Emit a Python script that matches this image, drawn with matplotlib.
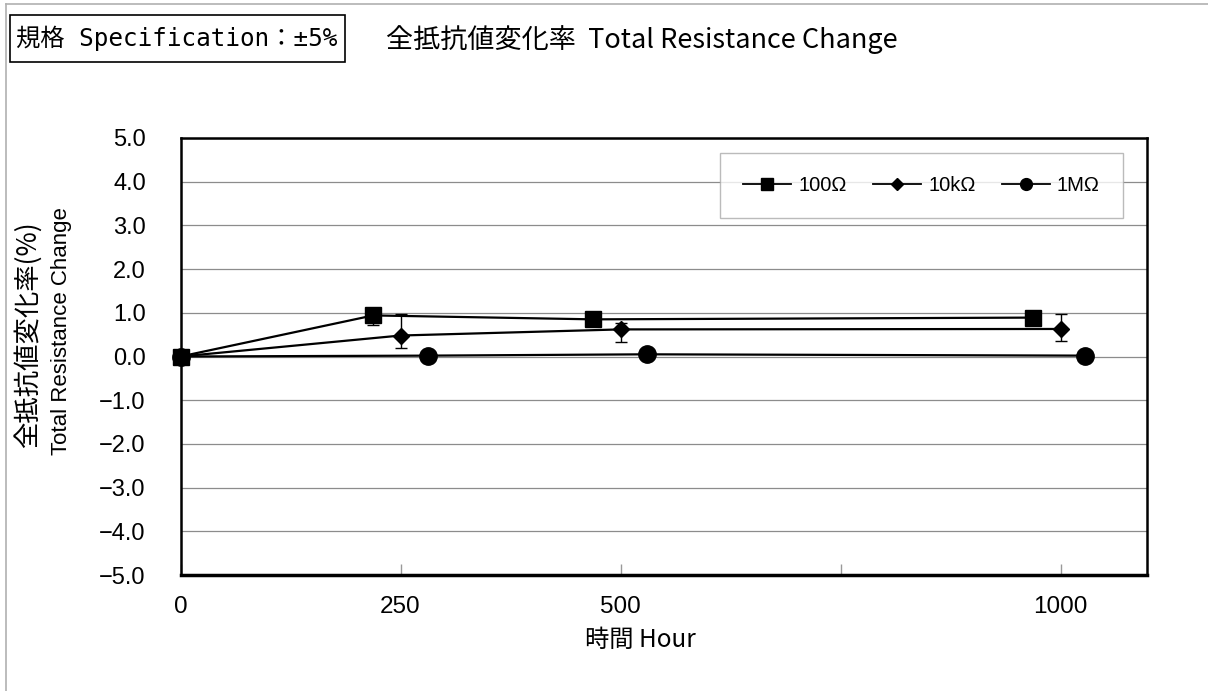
import matplotlib
matplotlib.use("Agg")
import matplotlib.pyplot as plt
from matplotlib.lines import Line2D
from matplotlib.patches import Rectangle

plt.rcParams['font.family'] = ['Liberation Sans', 'Noto Sans CJK JP', 'DejaVu Sans']

# ---- data ----
series_names = ['100Ω', '10kΩ', '1MΩ']
hours_100 = [0, 219, 469, 969]
chg_100 = [0.0, 0.94, 0.85, 0.89]
err_100_lo = [0.0, 0.22, 0.0, 0.0]
err_100_hi = [0.0, 0.0, 0.0, 0.0]

hours_10k = [0, 250, 500, 1000]
chg_10k = [0.0, 0.48, 0.62, 0.63]
err_10k_lo = [0.0, 0.28, 0.28, 0.28]
err_10k_hi = [0.0, 0.49, 0.15, 0.35]

hours_1M = [0, 281, 530, 1028]
chg_1M = [0.0, 0.02, 0.05, 0.02]

x_ticks = [0, 250, 500, 750, 1000]
x_tick_labels = ['0', '250', '500', '', '1000']
y_ticks = [-5, -4, -3, -2, -1, 0, 1, 2, 3, 4, 5]

W, H = 1208, 691
fig = plt.figure(figsize=(W / 100, H / 100), dpi=100)
ax = fig.add_axes([180.5 / W, 1 - 575 / H, (1147 - 180.5) / W, (575 - 138) / H])

cjk = ['Noto Sans CJK JP', 'DejaVu Sans']
mono = ['DejaVu Sans Mono', 'Noto Sans CJK JP']

ax.errorbar(hours_1M, chg_1M, color='black', lw=1.6, marker='o', ms=12.5,
            clip_on=False, zorder=3)
ax.errorbar(hours_10k, chg_10k, yerr=[err_10k_lo, err_10k_hi], color='black', lw=1.6,
            marker='D', ms=8.5, elinewidth=1.0, capsize=4, capthick=1.0,
            clip_on=False, zorder=4)
ax.errorbar(hours_100, chg_100, yerr=[err_100_lo, err_100_hi], color='black', lw=1.6,
            marker='s', ms=12, elinewidth=1.0, capsize=4, capthick=1.0,
            clip_on=False, zorder=5)

ax.set_xlim(0, 1098)
ax.set_ylim(-5, 5)
ax.set_yticks(y_ticks)
ax.set_yticklabels([f'{v:.1f}'.replace('-', '−') for v in y_ticks])
ax.set_xticks(x_ticks)
ax.set_xticklabels(x_tick_labels, fontsize=17.5)
ax.tick_params(axis='y', length=0, pad=25, labelsize=17)
ax.tick_params(axis='x', direction='in', length=8, color='#999999', width=1, pad=15)
ax.grid(axis='y', color='#8c8c8c', lw=0.9)
ax.set_axisbelow(True)
for s in ax.spines.values():
    s.set_color('black')
    s.set_linewidth(1.8)
ax.spines['bottom'].set_linewidth(2.5)

# legend (plain line+marker handles, as in the reference)
leg_handles = [
    Line2D([], [], color='black', lw=1.3, marker='s', ms=8),
    Line2D([], [], color='black', lw=1.3, marker='D', ms=6),
    Line2D([], [], color='black', lw=1.3, marker='o', ms=8.5),
]
leg = ax.legend(leg_handles, series_names, ncol=3,
                loc='upper right',
                bbox_to_anchor=((1123 - 180.5) / (1147 - 180.5), (575 - 153) / (575 - 138)),
                frameon=True, fancybox=False, edgecolor='#aaaaaa',
                handlelength=2.4, columnspacing=1.3, handletextpad=0.35,
                borderpad=1.15, borderaxespad=0.0,
                prop={'family': ['Liberation Sans', 'DejaVu Sans'], 'size': 14.5})
leg.get_frame().set_linewidth(1.0)

# titles and labels
fig.text(642 / W, 1 - 40 / H, '全抵抗値変化率  Total Resistance Change', ha='center', va='center',
         fontsize=19.5, family=cjk)
fig.text(640 / W, 1 - 640 / H, '時間 Hour', ha='center', va='center', fontsize=17.5, family=cjk)
fig.text(28 / W, 1 - 335 / H, '全抵抗値変化率(%)', ha='center', va='center', rotation=90,
         fontsize=19, family=cjk)
fig.text(62 / W, 1 - 331 / H, 'Total Resistance Change', ha='center', va='center', rotation=90,
         fontsize=16)

# spec box
fig.text(16 / W, 1 - 38.5 / H, '規格 Specification：±5%', ha='left', va='center', fontsize=17.5,
         family=mono)
fig.add_artist(Rectangle((10 / W, 1 - 62 / H), (345 - 10) / W, (62 - 15) / H,
                         transform=fig.transFigure, fill=False, edgecolor='black', lw=1.2))

# figure border (left and top)
fig.add_artist(Line2D([6 / W, 6 / W], [0, 1 - 4 / H], transform=fig.transFigure, color='#b0b0b0', lw=1.2))
fig.add_artist(Line2D([6 / W, 1], [1 - 4 / H, 1 - 4 / H], transform=fig.transFigure, color='#b0b0b0', lw=1.2))

fig.savefig('out.png', dpi=100)
